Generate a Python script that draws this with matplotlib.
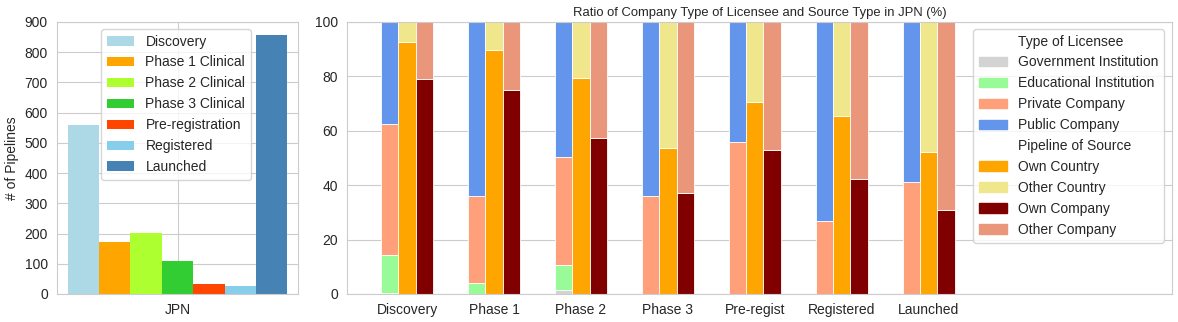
import matplotlib.pyplot as plt
import numpy as np
import seaborn as sns
from matplotlib.patches import Patch

sns.set_style('whitegrid')
plt.rcParams['font.family'] = ['Liberation Sans', 'DejaVu Sans']

# left chart: number of pipelines per phase in JPN
phases = ['Discovery', 'Phase 1 Clinical', 'Phase 2 Clinical', 'Phase 3 Clinical',
          'Pre-registration', 'Registered', 'Launched']
counts = [560, 173, 202, 110, 34, 27, 857]
phase_colors = ['lightblue', 'orange', 'greenyellow', 'limegreen',
                'orangered', 'skyblue', 'steelblue']

# right chart: ratios (%)
stages = ['Discovery', 'Phase 1', 'Phase 2', 'Phase 3', 'Pre-regist', 'Registered', 'Launched']
government = [0.5, 0.0, 1.5, 0.0, 0.0, 0.0, 0.0]
educational = [13.9, 4.0, 9.2, 0.0, 0.0, 0.0, 0.0]
private = [48.2, 32.1, 39.5, 36.1, 56.0, 27.0, 41.0]
public = [37.4, 63.9, 49.8, 63.9, 44.0, 73.0, 59.0]
own_country = [92.6, 89.8, 79.5, 53.7, 70.7, 65.5, 52.3]
other_country = [7.4, 10.2, 20.5, 46.3, 29.3, 34.5, 47.7]
own_company = [79.0, 75.1, 57.5, 37.2, 53.0, 42.3, 30.9]
other_company = [21.0, 24.9, 42.5, 62.8, 47.0, 57.7, 69.1]

fig = plt.figure(figsize=(11.78, 3.22), dpi=100)
ax1 = fig.add_axes([0.0484, 0.087, 0.2046, 0.845])
ax2 = fig.add_axes([0.2946, 0.087, 0.7004, 0.845])

# ---- left
w = 0.1303
for i, (name, val, col) in enumerate(zip(phases, counts, phase_colors)):
    ax1.bar((i - 3) * w, val, width=w, color=col, label=name, linewidth=0)
ax1.set_xlim(-0.5, 0.5)
ax1.set_ylim(0, 900)
ax1.set_yticks(range(0, 901, 100))
ax1.set_xticks([0])
ax1.set_xticklabels(['JPN'])
ax1.set_ylabel('# of Pipelines', fontsize=10)
ax1.tick_params(labelsize=10, pad=3)
ax1.legend(loc='upper right', bbox_to_anchor=(0.805, 0.974), fontsize=10,
           borderpad=0.4, borderaxespad=0)

# ---- right
x = np.arange(len(stages))
bw = 0.2
ew = 0.6
lic_parts = [government, educational, private, public]
lic_colors = ['lightgray', 'palegreen', 'lightsalmon', 'cornflowerblue']
bottom = np.zeros(len(stages))
for vals, col in zip(lic_parts, lic_colors):
    ax2.bar(x - bw, vals, bw, bottom=bottom, color=col, edgecolor='white', linewidth=ew)
    bottom += np.array(vals)

ax2.bar(x, own_country, bw, color='orange', edgecolor='white', linewidth=ew)
ax2.bar(x, other_country, bw, bottom=own_country, color='khaki', edgecolor='white', linewidth=ew)
ax2.bar(x + bw, own_company, bw, color='maroon', edgecolor='white', linewidth=ew)
ax2.bar(x + bw, other_company, bw, bottom=own_company, color='darksalmon', edgecolor='white', linewidth=ew)

ax2.set_xlim(-0.69, 8.8)
ax2.set_ylim(0, 100)
ax2.set_xticks(x)
ax2.set_xticklabels(stages)
ax2.set_yticks(range(0, 101, 20))
ax2.grid(axis='x', visible=False)
ax2.tick_params(labelsize=10, pad=3)
ax2.set_title('Ratio of Company Type of Licensee and Source Type in JPN (%)', fontsize=9.4, pad=4)

blank = Patch(color='none')
handles = [blank] + [Patch(color=c) for c in lic_colors] + [blank] + \
    [Patch(color=c) for c in ['orange', 'khaki', 'maroon', 'darksalmon']]
labels = ['Type of Licensee', 'Government Institution', 'Educational Institution',
          'Private Company', 'Public Company', 'Pipeline of Source',
          'Own Country', 'Other Country', 'Own Company', 'Other Company']
ax2.legend(handles, labels, loc='upper right', bbox_to_anchor=(0.99, 0.974), fontsize=10,
           borderpad=0.4, borderaxespad=0)

fig.savefig('out.png', dpi=100)
